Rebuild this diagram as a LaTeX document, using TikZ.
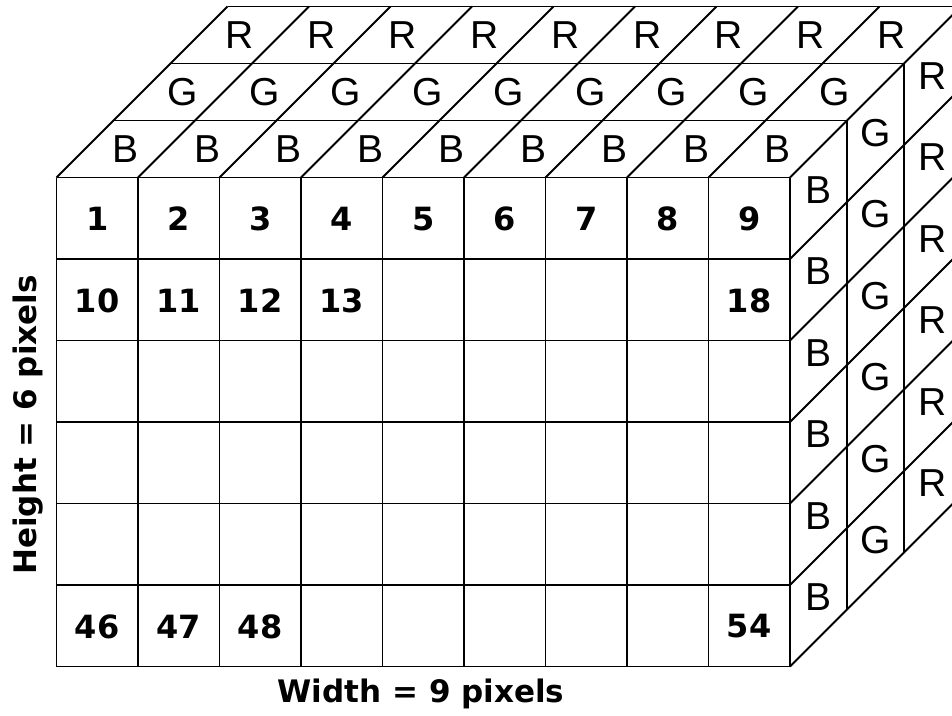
\documentclass[tikz,border=0pt]{standalone}
\usepackage{fontspec}
\setmainfont{DejaVu Sans}
\newfontfamily\layerfont{Liberation Sans}

\begin{document}
\begin{tikzpicture}[
	x=1pt, y=-1pt,
	cube/.style = {line width=1.9pt, black},
	lay/.style  = {font=\layerfont\fontsize{39}{39}\selectfont, inner sep=0pt},
	num/.style  = {font=\bfseries\fontsize{32}{32}\selectfont, inner sep=0pt},
	lab/.style  = {font=\bfseries\fontsize{31}{31}\selectfont, inner sep=0pt}
	]
	
	\useasboundingbox (0, 0) rectangle (952, 715);
	\clip (0, 0) rectangle (952, 715);
	
	% ===== ===== ===== ===== =====
	
	% Lines (front face)
	\foreach \i in {0,...,9}
		\draw[cube]	(56.5+81.5*\i, 177.5)	--	++(0, 489);
	\foreach \j in {0,...,6}
		\draw[cube]	(56.5, 177.5+81.5*\j)	--	++(733.5, 0);
	
	% Lines (top face)
	\foreach \k in {1,2,3}
		\draw[cube]	(56.5+57*\k, 177.5-57*\k)	--	++(733.5, 0);
	\foreach \i in {0,...,9}
		\draw[cube]	(56.5+81.5*\i, 177.5)	--	++(171, -171);
	
	% Lines (right face)
	\foreach \k in {1,2,3}
		\draw[cube]	(790+57*\k, 177.5-57*\k)	--	++(0, 489);
	\foreach \j in {1,...,6}
		\draw[cube]	(790, 177.5+81.5*\j)	--	++(171, -171);
	
	% ===== ===== ===== ===== =====
	
	% Nodes (colour layers)
	\foreach \c [count=\k from 0] in {B,G,R} {
		\foreach \i in {0,...,8}
			\node[lay]	(top-\c-\i)		at	(125.75+81.5*\i+57*\k, 149-57*\k)	{\c};
		\foreach \j in {0,...,5}
			\node[lay]	(side-\c-\j)	at	(818.5+57*\k, 189.75+81.5*\j-57*\k)	{\c};
	}
	
	% Nodes (pixel numbers)
	\foreach \v/\i/\j in {1/0/0, 2/1/0, 3/2/0, 4/3/0, 5/4/0, 6/5/0, 7/6/0, 8/7/0, 9/8/0,
		10/0/1, 11/1/1, 12/2/1, 13/3/1, 18/8/1,
		46/0/5, 47/1/5, 48/2/5, 54/8/5}
		\node[num]	(px\v)	at	(97.25+81.5*\i, 219+81.5*\j)	{\v};
	
	% ===== ===== ===== ===== =====
	
	% Nodes (axes)
	\node[lab]				(width)		at	(421, 693.5)	{Width = 9 pixels};
	\node[lab, rotate=90]	(height)	at	(28.5, 425)		{Height = 6 pixels};
	
\end{tikzpicture}
\end{document}
